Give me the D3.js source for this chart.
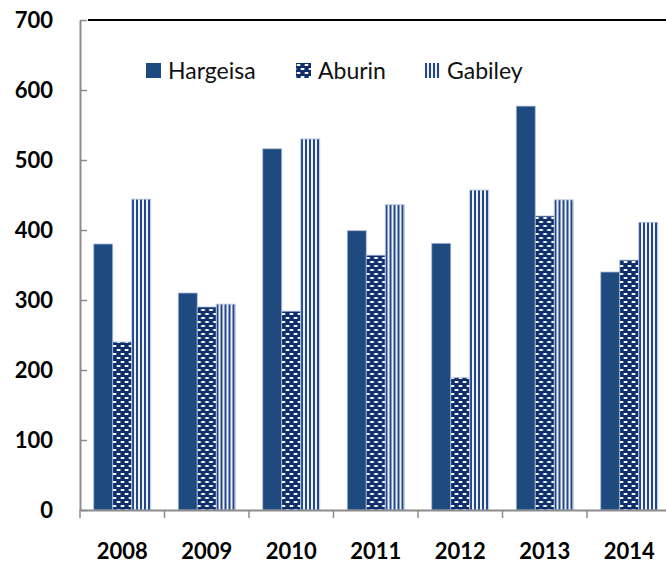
<!DOCTYPE html>
<html>
<head>
<meta charset="utf-8">
<script src="https://cdn.jsdelivr.net/npm/d3@7"></script>
<style>
  body { margin: 0; background: #fff; }
  text { font-family: Lato, "Open Sans", sans-serif; }
</style>
</head>
<body>
<div id="chart"></div>
<script>
var years = ["2008", "2009", "2010", "2011", "2012", "2013", "2014"];
var seriesNames = ["Hargeisa", "Aburin", "Gabiley"];
var hargeisa = [380, 310, 516, 399, 381, 577, 340];
var aburin = [240, 290, 284, 364, 189, 420, 357];
var gabiley = [444, 294, 530, 436, 457, 443, 411];
var yTicks = [0, 100, 200, 300, 400, 500, 600, 700];

var width = 666, height = 567;
var margin = {top: 20, left: 80, bottom: 57};

var svg = d3.select("#chart")
  .append("svg")
    .attr("width", width)
    .attr("height", height);

// fill patterns
var defs = svg.append("defs");

var dots = defs.append("pattern")
    .attr("id", "dots")
    .attr("patternUnits", "userSpaceOnUse")
    .attr("width", 8)
    .attr("height", 8);
dots.append("rect").attr("width", 8).attr("height", 8).attr("fill", "#0f2f6c");
dots.append("rect").attr("x", 0.5).attr("y", 1).attr("width", 4).attr("height", 2).attr("rx", 1).attr("fill", "#fff");
dots.append("rect").attr("x", 4.5).attr("y", 5).attr("width", 4).attr("height", 2).attr("rx", 1).attr("fill", "#fff");
dots.append("rect").attr("x", -3.5).attr("y", 5).attr("width", 4).attr("height", 2).attr("rx", 1).attr("fill", "#fff");

var stripes = defs.append("pattern")
    .attr("id", "stripes")
    .attr("patternUnits", "userSpaceOnUse")
    .attr("width", 4)
    .attr("height", 4);
stripes.append("rect").attr("width", 4).attr("height", 4).attr("fill", "#eef2f9");
stripes.append("rect").attr("width", 2).attr("height", 4).attr("fill", "#23478a");

var fills = {"Hargeisa": "#1f4a80", "Aburin": "url(#dots)", "Gabiley": "url(#stripes)"};

// scales
var x0 = d3.scaleBand()
  .domain(years)
  .range([margin.left, margin.left + 84.5 * years.length]);

var x1 = d3.scaleBand()
  .domain(seriesNames)
  .range([13.75, x0.bandwidth() - 13.75]);

var y = d3.scaleLinear()
  .domain([0, 700])
  .range([height - margin.bottom, margin.top]);

// top border line
svg.append("line")
  .attr("x1", margin.left + 8).attr("x2", width)
  .attr("y1", y(700)).attr("y2", y(700))
  .attr("stroke", "#000")
  .attr("stroke-width", 2);

// y axis
var yAxis = svg.append("g")
  .attr("transform", "translate(" + margin.left + ",0)")
  .call(d3.axisLeft(y).tickValues(yTicks).tickSizeInner(-7).tickSizeOuter(0).tickPadding(27));
yAxis.select(".domain").attr("stroke", "#8c8c8c").attr("stroke-width", 2);
yAxis.selectAll(".tick line").attr("stroke", "#8c8c8c").attr("stroke-width", 1.5);
yAxis.selectAll(".tick text")
  .attr("font-size", 22)
  .attr("font-weight", "bold")
  .attr("fill", "#000");

// bars
var data = years.map(function(d, i) {
  return {year: d, values: [hargeisa[i], aburin[i], gabiley[i]]};
});

var group = svg.selectAll("g.year")
  .data(data)
  .enter().append("g")
    .attr("class", "year")
    .attr("transform", function(d) { return "translate(" + x0(d.year) + ",0)"; });

group.selectAll("rect")
  .data(function(d) { return seriesNames.map(function(s, j) { return {key: s, value: d.values[j]}; }); })
  .enter().append("rect")
    .attr("x", function(d) { return x1(d.key); })
    .attr("y", function(d) { return y(d.value); })
    .attr("width", x1.bandwidth())
    .attr("height", function(d) { return y(0) - y(d.value); })
    .attr("fill", function(d) { return fills[d.key]; })
    .attr("stroke", "#a9bcdc")
    .attr("stroke-width", 0.8);

// x axis
var xAxis = svg.append("g")
  .attr("transform", "translate(0," + y(0) + ")")
  .call(d3.axisBottom(x0).tickSize(0).tickPadding(33));
xAxis.select(".domain").attr("stroke", "#8c8c8c").attr("stroke-width", 2);
xAxis.selectAll(".tick text")
  .attr("font-size", 22)
  .attr("font-weight", "bold")
  .attr("fill", "#000");

// tick marks between categories
svg.append("g")
  .attr("transform", "translate(0," + y(0) + ")")
  .selectAll("line")
  .data(years)
  .enter().append("line")
    .attr("x1", function(d) { return x0(d); })
    .attr("x2", function(d) { return x0(d); })
    .attr("y1", 0).attr("y2", 8)
    .attr("stroke", "#8c8c8c")
    .attr("stroke-width", 1.5);

// legend
var legendX = [146, 296, 425];
var legend = svg.selectAll("g.legend")
  .data(seriesNames)
  .enter().append("g")
    .attr("class", "legend")
    .attr("transform", function(d, i) { return "translate(" + legendX[i] + ",63)"; });

legend.append("rect")
  .attr("width", 15)
  .attr("height", 15)
  .attr("fill", function(d) { return fills[d]; });

legend.append("text")
  .attr("x", 22)
  .attr("y", 16)
  .attr("font-size", 23)
  .attr("fill", "#111")
  .text(function(d) { return d; });
</script>
</body>
</html>
